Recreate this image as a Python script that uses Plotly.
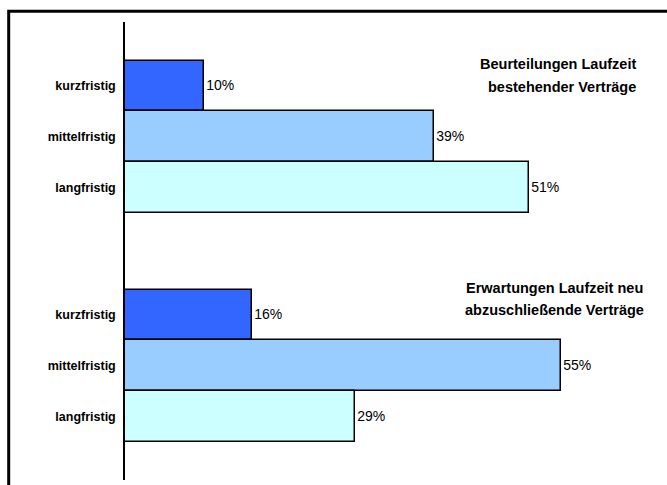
import plotly.graph_objects as go

categories = ["kurzfristig", "mittelfristig", "langfristig"]
existing_vals = [10, 39, 51]
new_vals = [16, 55, 29]
bar_colors = ["#3366FF", "#99CCFF", "#CCFFFF"]
title_existing = ["Beurteilungen Laufzeit", "bestehender Verträge"]
title_new = ["Erwartungen Laufzeit neu", "abzuschließende Verträge"]

W, H = 667, 485
ML, MR, MT, MB = 125, 27, 22, 5
PW, PH = W - ML - MR, H - MT - MB
FONT = "Liberation Sans, Arial, sans-serif"

def px(x):
    return (x - ML) / PW

def py(y):
    return 1 - (y - MT) / PH

fig = go.Figure()
for vals, yname in [(existing_vals, "y"), (new_vals, "y2")]:
    fig.add_trace(go.Bar(
        y=categories, x=vals, orientation="h", yaxis=yname,
        marker=dict(color=bar_colors, line=dict(color="black", width=1.5)),
        text=[f"{v}%" for v in vals], textposition="outside",
        textfont=dict(family=FONT, size=14, color="black"), cliponaxis=False,
        width=1, hoverinfo="skip"))

yax = dict(type="category", autorange=False, range=[3.26, -1.26],
           showline=True, linecolor="black", linewidth=1.5, showgrid=False,
           ticks="", ticklabelstandoff=5, zeroline=False,
           tickfont=dict(family=FONT, size=12.5, color="black", weight="bold"))

fig.update_layout(
    width=W, height=H, margin=dict(l=ML, r=MR, t=MT, b=MB),
    paper_bgcolor="white", plot_bgcolor="white", showlegend=False,
    bargap=0,
    xaxis=dict(range=[0, PW / 7.92], visible=False, fixedrange=True),
    yaxis=dict(domain=[0.5, 1], anchor="x", **yax),
    yaxis2=dict(domain=[0, 0.5], anchor="x", **yax),
    font=dict(family=FONT),
)

ann = []
for txt, y in zip(title_existing, [64, 87]):
    ann.append(dict(x=px(638), y=py(y), xref="paper", yref="paper", text=txt,
                    showarrow=False, xanchor="right", yanchor="middle",
                    font=dict(family=FONT, size=14.5, color="black", weight="bold")))
for txt, y in zip(title_new, [288, 310]):
    ann.append(dict(x=px(554.5), y=py(y), xref="paper", yref="paper", text=txt,
                    showarrow=False, xanchor="center", yanchor="middle",
                    font=dict(family=FONT, size=14.5, color="black", weight="bold")))
fig.update_layout(annotations=ann)

fig.add_shape(type="rect", xref="paper", yref="paper",
              x0=px(8.7), y0=py(H + 30), x1=px(W + 30), y1=py(11.3),
              line=dict(color="black", width=3), fillcolor="rgba(0,0,0,0)")

fig.write_html("out.html")
